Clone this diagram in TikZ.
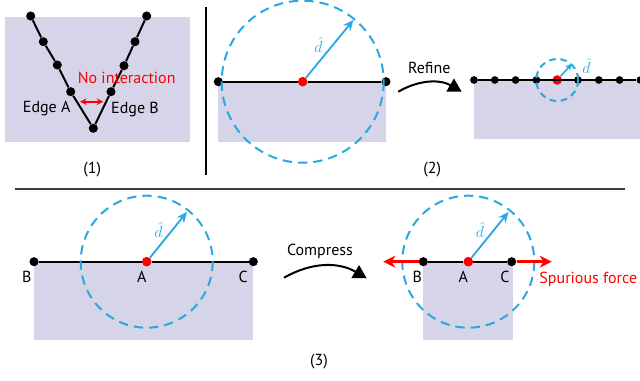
\documentclass[tikz,border=0pt]{standalone}
\usepackage{fontspec}
\setmainfont{PT Sans}
\usetikzlibrary{arrows.meta}
\definecolor{surf}{RGB}{214,212,233}
\definecolor{radblue}{RGB}{41,169,224}

\begin{document}
\begin{tikzpicture}[x=0.75pt, y=-0.75pt, font=\fontsize{12}{14}\selectfont,
    dot/.style={circle, fill=black, inner sep=0pt, minimum size=6.8pt},
    sdot/.style={dot, minimum size=5.8pt},
    rdot/.style={circle, fill=red, inner sep=0pt, minimum size=7.2pt},
    edge/.style={line width=1.5pt},
    ring/.style={radblue, line width=1.5pt, dash pattern=on 7pt off 4.5pt},
    radius/.style={radblue, line width=1.4pt, -{Stealth[length=8pt,width=7pt]}},
    hatlbl/.style={radblue, inner sep=0pt},
    bendarrow/.style={line width=1.5pt, -{Triangle[length=10pt,width=11pt]}},
    force/.style={red, line width=2.2pt, -{Stealth[length=9pt,width=9pt]}}]
  \useasboundingbox (0,0) rectangle (640,381);

  % (1) two edges of a V
  \fill[surf] (5,17) rectangle (190,142);
  \node[dot] (a1) at (30.7,16) {};
  \node[dot] (a2) at (43.3,41.7) {};
  \node[dot] (a3) at (57.3,65) {};
  \node[dot] (a4) at (70.7,91.7) {};
  \node[dot] (v) at (93.3,128.3) {};
  \node[dot] (b4) at (111,91.7) {};
  \node[dot] (b3) at (124,65.7) {};
  \node[dot] (b2) at (135,41.7) {};
  \node[dot] (b1) at (146.7,16) {};
  \draw[edge] (a1) -- (a2) -- (a3) -- (a4) -- (v) -- (b4) -- (b3) -- (b2) -- (b1);
  \coordinate (gapl) at (80,101.7);
  \coordinate (gapr) at (103.3,101.7);
  \draw[red, line width=1.4pt, {Stealth[length=5pt,width=5pt]}-{Stealth[length=5pt,width=5pt]}] (gapl) -- (gapr);
  \node[red] (noint) at (126.7,78) {No interaction};
  \node (edgea) at (46.7,109) {Edge A};
  \node (edgeb) at (135,110) {Edge B};
  \node (cap1) at (92.3,170) {(1)};

  \draw[line width=0.8pt] (206,7) -- (206,175);

  % (2) refine
  \fill[surf] (218.3,82) rectangle (386,141.7);
  \node[dot] (l2) at (218.3,81.7) {};
  \node[rdot] (c2) at (302.7,81.7) {};
  \node[dot] (r2) at (386,81.7) {};
  \draw[edge] (l2) -- (c2) -- (r2);
  \draw[ring] (c2.center) circle (81);
  \path (c2.center) ++(-50.6:80) coordinate (t2);
  \draw[radius] (c2) -- (t2);
  \node[hatlbl] (d2) at (318.5,45) {$\hat{d}$};

  \coordinate (rfs) at (398.3,91.7);
  \coordinate (rfe) at (461.7,91.7);
  \draw[bendarrow] (rfs) to[bend left=30] (rfe);
  \node (refine) at (429.3,68.3) {Refine};

  \fill[surf] (474,81) rectangle (640,139.3);
  \foreach \i in {0,1,2,3,5,6,7,8}
    \node[sdot] (q\i) at ({474+20.8*\i},80) {};
  \node[rdot] (q4) at (557.2,80) {};
  \draw[edge] (q0) \foreach \i in {1,...,8} { -- (q\i) };
  \draw[ring, dash pattern=on 5pt off 3.5pt] (q4.center) circle (21);
  \path (q4.center) ++(-48:22) coordinate (t2b);
  \draw[radblue, line width=1.2pt, -{Stealth[length=5pt,width=5pt]}] (q4) -- (t2b);
  \node[hatlbl] (d2b) at (586.5,66) {$\hat{d}$};
  \node (cap2) at (432.3,170) {(2)};

  \draw[black!75, line width=0.8pt] (15,189) -- (625,189);

  % (3) compress
  \fill[surf] (34,262) rectangle (253.3,340);
  \node[dot] (B3) at (34,261.7) {};
  \node[rdot] (A3) at (146.7,261.7) {};
  \node[dot] (C3) at (253.3,261.7) {};
  \draw[edge] (B3) -- (A3) -- (C3);
  \draw[ring] (A3.center) circle (66);
  \path (A3.center) ++(-51:64) coordinate (t3);
  \draw[radius] (A3) -- (t3);
  \node[hatlbl] (d3) at (158.5,230) {$\hat{d}$};
  \node (lB3) at (26.7,276.7) {B};
  \node (lA3) at (141.7,276.7) {A};
  \node (lC3) at (243.3,276.7) {C};

  \coordinate (cps) at (284,277.7);
  \coordinate (cpe) at (366.7,278.3);
  \draw[bendarrow] (cps) to[bend left=30] (cpe);
  \node (compress) at (320,251) {Compress};

  \fill[surf] (423.3,262) rectangle (513.3,340);
  \node[dot] (B4) at (423.3,261.7) {};
  \node[rdot] (A4) at (468.3,261.7) {};
  \node[dot] (C4) at (511.7,261.7) {};
  \draw[edge] (B4) -- (A4) -- (C4);
  \draw[ring] (A4.center) circle (66);
  \path (A4.center) ++(-51:64) coordinate (t4);
  \draw[radius] (A4) -- (t4);
  \node[hatlbl] (d4) at (480,230) {$\hat{d}$};
  \coordinate (fl) at (383.3,261.7);
  \coordinate (fr) at (551.7,261.7);
  \draw[force] (B4) -- (fl);
  \draw[force] (C4) -- (fr);
  \node (lB4) at (417.3,276.7) {B};
  \node (lA4) at (463.3,276.7) {A};
  \node (lC4) at (505,276.7) {C};
  \node[red] (spur) at (588.3,279.3) {Spurious force};
  \node (cap3) at (319,361.7) {(3)};
\end{tikzpicture}
\end{document}
